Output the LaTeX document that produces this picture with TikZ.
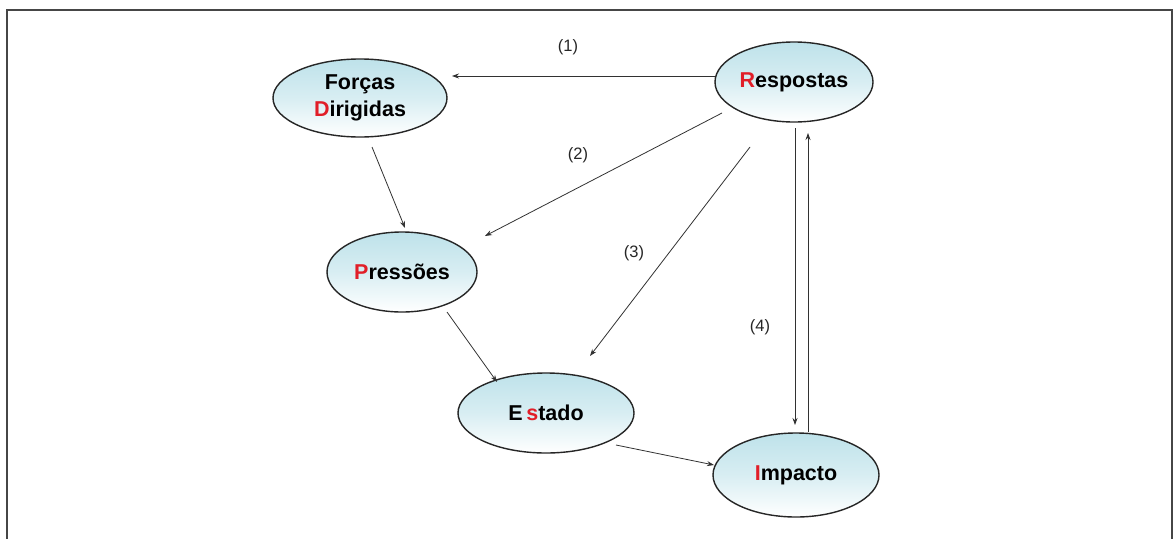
\documentclass[tikz,border=0pt]{standalone}
\usepackage{fontspec}
\setmainfont{Liberation Sans}
\usetikzlibrary{shapes.geometric,arrows.meta,calc}
\definecolor{ellc}{RGB}{190,226,234}
\definecolor{redl}{RGB}{225,30,40}
\definecolor{framec}{RGB}{70,70,70}
\definecolor{linec}{RGB}{50,50,50}
\tikzset{
  ell/.style={ellipse, draw=black!85, line width=1.4pt, top color=ellc, bottom color=white, middle color=ellc!60!white,
    inner sep=0pt, font=\fontsize{21.5}{24}\selectfont\bfseries, align=center},
  arr/.style={draw=linec, line width=0.8pt, -{Stealth[length=7pt,width=5pt]}},
  lbl/.style={font=\fontsize{16.5}{18}\selectfont, text=black!85}
}
\newcommand{\rl}[1]{{\color{redl}#1}}
\begin{document}
\begin{tikzpicture}[x=1pt,y=-1pt]
\useasboundingbox (0,0) rectangle (1174,538);
\fill[white] (0,0) rectangle (1174,538);
\draw[framec, line width=2pt] (7,540) -- (7,10) -- (1172,10) -- (1172,540);

\node[ell, minimum width=174pt, minimum height=78pt] (forc) at (360,98) {For\c cas\\[3pt]\rl{D}irigidas};
\node[ell, minimum width=158pt, minimum height=80pt] (resp) at (794,82) {\rl{R}espostas};
\node[ell, minimum width=150pt, minimum height=80pt] (pres) at (402,272) {\rl{P}ress\~oes};
\node[ell, minimum width=176pt, minimum height=80pt] (est) at (546,413) {E\,\rl{s}tado};
\node[ell, minimum width=166pt, minimum height=84pt] (imp) at (796,475) {\rl{I}mpacto};

% connectors
\draw[arr] ($(resp)+(-79,-6)$) -- ($(forc)+(92,-22)$);
\draw[arr] ($(resp)+(-72,31)$) -- ($(pres)+(83,-36)$);
\draw[arr] ($(resp)+(-44,65)$) -- ($(est)+(44,-57)$);
\draw[arr] ($(resp)+(1,46)$) -- ($(imp)+(-1,-50)$);
\draw[arr] ($(imp)+(12,-43)$) -- ($(resp)+(14,51)$);
\draw[arr] ($(forc)+(12,49)$) -- ($(pres)+(3,-44)$);
\draw[arr] ($(pres)+(45,40)$) -- ($(est)+(-49,-31)$);
\draw[arr] ($(est)+(70,32)$) -- ($(imp)+(-82,-10)$);

% labels
\node[lbl] (l1) at (568,47) {(1)};
\node[lbl] (l2) at (578,155) {(2)};
\node[lbl] (l3) at (634,253) {(3)};
\node[lbl] (l4) at (760,327) {(4)};
\end{tikzpicture}
\end{document}
